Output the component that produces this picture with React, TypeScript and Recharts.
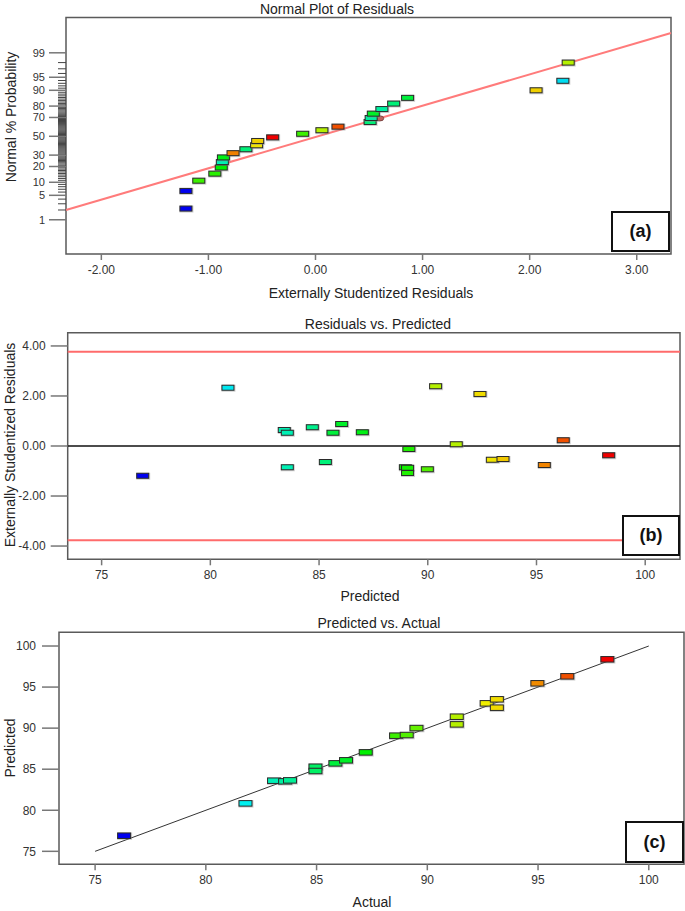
import React from 'react';
import { ScatterChart, Scatter, XAxis, YAxis, ReferenceLine, ReferenceArea } from 'recharts';

const FONT = '"Liberation Sans", Arial, Helvetica, sans-serif';

// (a) Normal plot of residuals
const normalResiduals = [-1.21, -1.21, -1.09, -0.94, -0.88, -0.87, -0.86, -0.77, -0.65, -0.55, -0.54, -0.4, -0.12, 0.06, 0.21, 0.51, 0.52, 0.54, 0.62, 0.73, 0.86, 2.06, 2.31, 2.36];
const normalProbability = [2.2, 6.4, 10.8, 14.9, 19.2, 23.6, 27.8, 31.9, 35.9, 40.1, 44.8, 48.8, 52.8, 56.7, 60.6, 65.5, 69.5, 73.6, 77.6, 81.9, 85.8, 90.0, 93.9, 98.0];
const normalHues = [240, 240, 105, 110, 120, 165, 125, 32, 150, 57, 52, 0, 105, 75, 20, 150, 160, 130, 160, 150, 135, 52, 185, 75];
const flaggedResidual = [0.6];
const flaggedProbability = [69.1];
const probLabels = [1, 5, 10, 20, 30, 50, 70, 80, 90, 95, 99];
const probMinor = Array.from({ length: 99 }, (_, i) => i + 1);
const normalFit = { r1: -2.33, p1: 2.0, r2: 3.32, p2: 99.8 };
const residualTicks = [-2, -1, 0, 1, 2, 3];

// (b) Residuals vs. Predicted
const predictedB = [76.89, 80.81, 83.4, 83.54, 83.54, 84.69, 85.29, 85.64, 86.04, 86.99, 89.13, 88.97, 89.07, 89.07, 89.98, 90.36, 91.31, 92.4, 92.97, 93.46, 95.36, 96.23, 98.32];
const residualsB = [-1.19, 2.33, 0.64, 0.53, -0.85, 0.75, -0.64, 0.53, 0.88, 0.55, -0.12, -0.85, -0.87, -1.08, -0.93, 2.39, 0.07, 2.08, -0.55, -0.52, -0.76, 0.23, -0.37];
const huesB = [240, 182, 165, 165, 165, 155, 150, 135, 130, 125, 112, 118, 115, 112, 100, 75, 75, 55, 57, 50, 33, 20, 0];
const limitsB = [3.77, -3.77];
const residualTicksB = [-4, -2, 0, 2, 4];

// (c) Predicted vs. Actual
const actualC = [76.31, 81.79, 83.08, 83.58, 83.8, 84.95, 84.95, 85.85, 86.33, 87.22, 88.59, 89.07, 89.51, 91.33, 91.33, 92.68, 93.14, 93.14, 94.97, 96.32, 98.13];
const predictedC = [76.9, 80.84, 83.6, 83.52, 83.64, 85.3, 84.78, 85.71, 86.08, 87.05, 89.08, 89.16, 90.01, 91.39, 90.46, 93.02, 93.51, 92.49, 95.46, 96.31, 98.38];
const responseTicks = [75, 80, 85, 90, 95, 100];

// inverse normal cdf (Acklam), used for the probability axis
function probit(p: number): number {
  const a = [-39.69683028665376, 220.9460984245205, -275.9285104469687, 138.357751867269, -30.66479806614716, 2.506628277459239];
  const b = [-54.47609879822406, 161.5858368580409, -155.6989798598866, 66.80131188771972, -13.28068155288572];
  const c = [-0.007784894002430293, -0.3223964580411365, -2.400758277161838, -2.549671348214145, 4.374664141464968, 2.938163982698783];
  const d = [0.007784695709041462, 0.3224671290700398, 2.445134137142996, 3.754408661907416];
  const pl = 0.02425;
  if (p < pl) {
    const q = Math.sqrt(-2 * Math.log(p));
    return (((((c[0] * q + c[1]) * q + c[2]) * q + c[3]) * q + c[4]) * q + c[5]) / ((((d[0] * q + d[1]) * q + d[2]) * q + d[3]) * q + 1);
  }
  if (p <= 1 - pl) {
    const q = p - 0.5;
    const r = q * q;
    return ((((((a[0] * r + a[1]) * r + a[2]) * r + a[3]) * r + a[4]) * r + a[5]) * q) / (((((b[0] * r + b[1]) * r + b[2]) * r + b[3]) * r + b[4]) * r + 1);
  }
  const q = Math.sqrt(-2 * Math.log(1 - p));
  return -(((((c[0] * q + c[1]) * q + c[2]) * q + c[3]) * q + c[4]) * q + c[5]) / ((((d[0] * q + d[1]) * q + d[2]) * q + d[3]) * q + 1);
}

const hue = (h: number) => `hsl(${h}, 100%, 47%)`;

const dataA = normalResiduals.map((r, i) => ({ r, z: probit(normalProbability[i] / 100), color: hue(normalHues[i]) }));
const flaggedA = flaggedResidual.map((r, i) => ({ r, z: probit(flaggedProbability[i] / 100) }));
const dataB = predictedB.map((p, i) => ({ pred: p, res: residualsB[i], color: hue(huesB[i]) }));
const minC = Math.min(...actualC);
const maxC = Math.max(...actualC);
const dataC = actualC.map((a, i) => ({ act: a, pred: predictedC[i], color: hue(240 * (1 - (a - minC) / (maxC - minC))) }));
const probTicksZ = probMinor.map((p) => probit(p / 100));

const block = (w: number, h: number) => (props: any) => {
  const { cx, cy, payload } = props;
  if (cx == null || cy == null) return <g />;
  return (
    <g>
      <rect x={cx - w / 2 - 0.5} y={cy - h / 2 - 0.5} width={w + 2} height={h + 2} fill="#8a8a8a" opacity={0.4} />
      <rect x={cx - w / 2} y={cy - h / 2} width={w} height={h} fill={payload.color} stroke="#2a2a2a" strokeWidth={1} />
    </g>
  );
};

const flaggedShape = (props: any) => {
  const { cx, cy } = props;
  if (cx == null || cy == null) return <g />;
  return <ellipse cx={cx} cy={cy} rx={4} ry={2.6} fill="#c0625c" stroke="#6a3a3a" strokeWidth={0.8} />;
};

const ProbTick = (props: any) => {
  const { x, y, payload } = props;
  const pct = probMinor.find((p) => Math.abs(probit(p / 100) - payload.value) < 1e-9);
  const major = pct != null && probLabels.includes(pct);
  return (
    <g>
      {major ? (
        <>
          <line x1={x - 17} y1={y} x2={x} y2={y} stroke="#777" strokeWidth={1.5} />
          <text x={x - 21} y={y} dy="0.36em" textAnchor="end" fontSize={11} fill="#333" fontFamily={FONT}>{pct}</text>
        </>
      ) : (
        <line x1={x - 8} y1={y} x2={x} y2={y} stroke="#444" strokeWidth={1} />
      )}
    </g>
  );
};

const tickStyle = { fontSize: 12, fill: '#333', fontFamily: FONT };
const tickLine = { stroke: '#777', strokeWidth: 1.5 };

const Text = ({ x, y, children, rotate, size = 14, bold }: any) => (
  <div
    style={{
      position: 'absolute', left: x, top: y, transform: `translate(-50%, -50%)${rotate ? ' rotate(-90deg)' : ''}`,
      whiteSpace: 'nowrap', fontFamily: FONT, fontSize: size, color: '#222', fontWeight: bold ? 'bold' : 'normal', lineHeight: 1,
    }}
  >
    {children}
  </div>
);

const PanelTag = ({ left, top, width, height, children }: any) => (
  <div
    style={{
      position: 'absolute', left, top, width, height, boxSizing: 'border-box', border: '2px solid #111', background: '#fff',
      display: 'flex', alignItems: 'center', justifyContent: 'center', fontFamily: FONT, fontWeight: 'bold', fontSize: 18, color: '#111',
    }}
  >
    {children}
  </div>
);

const App: React.FC = () => {
  return (
    <div style={{ position: 'absolute', left: 0, top: 0, width: 685, height: 911, background: '#fff', overflow: 'hidden' }}>
      {/* (a) */}
      <div style={{ position: 'absolute', left: 0, top: 0 }}>
        <ScatterChart width={685} height={284} margin={{ top: 17.5, right: 14, bottom: 0, left: 0 }}>
          <XAxis dataKey="r" type="number" domain={[-2.33, 3.32]} allowDataOverflow ticks={residualTicks}
            tickFormatter={(v: number) => v.toFixed(2)} height={30} tickSize={6} tickMargin={5} axisLine={false}
            tickLine={tickLine} tick={tickStyle} interval={0} />
          <YAxis dataKey="z" type="number" domain={[-3.28, 3.31]} allowDataOverflow ticks={probTicksZ} interval={0}
            width={66} tickSize={0} tickMargin={0} axisLine={false} tickLine={false} tick={(p: any) => <ProbTick {...p} />} />
          <ReferenceArea x1={-2.33} x2={3.32} y1={-3.28} y2={3.31} fill="none" stroke="#5a5a5a" strokeWidth={1.5} />
          <ReferenceLine segment={[{ x: normalFit.r1, y: probit(normalFit.p1 / 100) }, { x: normalFit.r2, y: probit(normalFit.p2 / 100) }]}
            stroke="#ff7b7b" strokeWidth={2} />
          <Scatter data={flaggedA} shape={flaggedShape} isAnimationActive={false} />
          <Scatter data={dataA} shape={block(12, 5)} isAnimationActive={false} />
        </ScatterChart>
      </div>

      {/* (b) */}
      <div style={{ position: 'absolute', left: 0, top: 300 }}>
        <ScatterChart width={685} height={289.3} margin={{ top: 32.7, right: 5, bottom: 0, left: 0 }}>
          <XAxis dataKey="pred" type="number" domain={[73.44, 101.6]} allowDataOverflow ticks={responseTicks}
            height={30} tickSize={6} tickMargin={5} axisLine={false} tickLine={tickLine} tick={tickStyle} interval={0} />
          <YAxis dataKey="res" type="number" domain={[-4.53, 4.53]} allowDataOverflow ticks={residualTicksB}
            tickFormatter={(v: number) => v.toFixed(2)} width={67.7} tickSize={17} tickMargin={5} axisLine={false}
            tickLine={tickLine} tick={tickStyle} interval={0} />
          <ReferenceArea x1={73.44} x2={101.6} y1={-4.53} y2={4.53} fill="none" stroke="#5a5a5a" strokeWidth={1.5} />
          {limitsB.map((v) => (
            <ReferenceLine key={v} y={v} stroke="#ff6b6b" strokeWidth={2} />
          ))}
          <ReferenceLine y={0} stroke="#111" strokeWidth={1.5} />
          <Scatter data={dataB} shape={block(12, 5)} isAnimationActive={false} />
        </ScatterChart>
      </div>

      {/* (c) */}
      <div style={{ position: 'absolute', left: 0, top: 600 }}>
        <ScatterChart width={685} height={294.3} margin={{ top: 32.3, right: 1, bottom: 0, left: 0 }}>
          <XAxis dataKey="act" type="number" domain={[73.37, 101.59]} allowDataOverflow ticks={responseTicks}
            height={30} tickSize={6} tickMargin={5} axisLine={false} tickLine={tickLine} tick={tickStyle} interval={0} />
          <YAxis dataKey="pred" type="number" domain={[73.42, 101.67]} allowDataOverflow ticks={responseTicks}
            width={59} tickSize={17} tickMargin={6} axisLine={false} tickLine={tickLine} tick={tickStyle} interval={0} />
          <ReferenceArea x1={73.37} x2={101.59} y1={73.42} y2={101.67} fill="none" stroke="#5a5a5a" strokeWidth={1.5} />
          <ReferenceLine segment={[{ x: 75, y: 75 }, { x: 100, y: 100 }]} stroke="#333" strokeWidth={1} />
          <Scatter data={dataC} shape={block(13, 5.5)} isAnimationActive={false} />
        </ScatterChart>
      </div>

      <Text x={337} y={9}>Normal Plot of Residuals</Text>
      <Text x={371} y={293}>Externally Studentized Residuals</Text>
      <Text x={11} y={117} rotate>Normal % Probability</Text>

      <Text x={378} y={324}>Residuals vs. Predicted</Text>
      <Text x={370} y={596}>Predicted</Text>
      <Text x={9.5} y={445} rotate>Externally Studentized Residuals</Text>

      <Text x={379} y={623}>Predicted vs. Actual</Text>
      <Text x={372} y={902}>Actual</Text>
      <Text x={10} y={748} rotate>Predicted</Text>

      <PanelTag left={611} top={211} width={59} height={41}>(a)</PanelTag>
      <PanelTag left={622} top={515} width={58} height={41}>(b)</PanelTag>
      <PanelTag left={625} top={821} width={59} height={42}>(c)</PanelTag>
    </div>
  );
};

export default App;
